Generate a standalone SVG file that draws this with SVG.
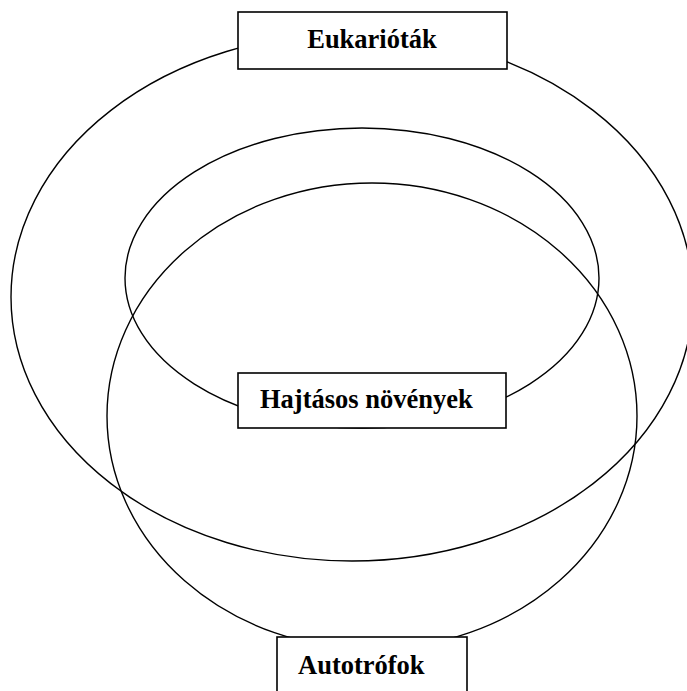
<svg xmlns="http://www.w3.org/2000/svg" width="687" height="691" viewBox="0 0 687 691">
<style>
.set{fill:none;stroke:#000;stroke-width:1.4}
.box{fill:#fff;stroke:#000;stroke-width:1.6}
.lbl{font-family:"Liberation Serif","Times New Roman",serif;font-weight:bold;font-size:26.5px;fill:#000}
</style>
<rect width="687" height="691" fill="#fff"/>
<g id="connectors">
<ellipse class="set" cx="352" cy="297" rx="341" ry="264"/>
<ellipse class="set" cx="362" cy="278" rx="237" ry="150"/>
<ellipse class="set" cx="372" cy="416" rx="265" ry="233"/>
</g>
<g id="eukariotak">
<rect class="box" x="238" y="12" width="269" height="57"/>
<text class="lbl" x="372" y="48" text-anchor="middle">Eukarióták</text>
</g>
<g id="hajtasos">
<rect class="box" x="238" y="373" width="268" height="55"/>
<text class="lbl" x="260" y="408">Hajtásos növények</text>
</g>
<g id="autotrofok">
<rect class="box" x="277" y="637" width="190" height="60"/>
<text class="lbl" x="298" y="674">Autotrófok</text>
</g>
</svg>
